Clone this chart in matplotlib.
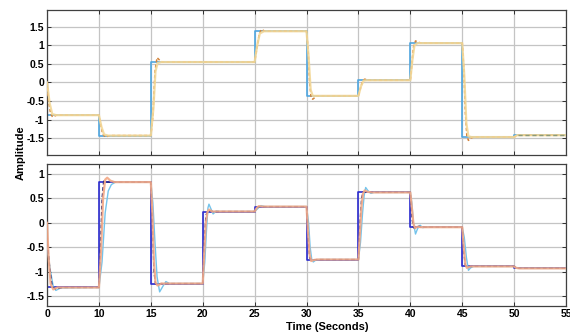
import matplotlib.pyplot as plt
import numpy as np

plt.rcParams['font.family'] = ['Liberation Sans Narrow', 'Liberation Sans', 'DejaVu Sans']

# step instants (the leftmost tick is labelled "0")
step_times = [5, 10, 15, 20, 25, 30, 35, 40, 45, 50]
t_end = 55
x_ticks = [5, 10, 15, 20, 25, 30, 35, 40, 45, 50, 55]
x_tick_labels = ['0', '10', '15', '20', '25', '30', '35', '40', '45', '50', '55']

# upper panel
top_ref = [-0.88, -1.43, 0.55, 0.55, 1.38, -0.36, 0.06, 1.06, -1.47, -1.42]
top_resp = [(5, 0.0), (5.15, -0.5), (5.35, -0.85), (5.55, -0.93), (5.9, -0.88),
            (10, -0.88), (10.15, -1.1), (10.35, -1.38), (10.6, -1.47), (10.9, -1.44), (11.2, -1.43),
            (15, -1.43), (15.2, -0.9), (15.4, 0.3), (15.6, 0.67), (15.85, 0.6), (16.1, 0.55),
            (25, 0.55), (25.2, 0.9), (25.45, 1.3), (25.65, 1.43), (26.0, 1.38),
            (30, 1.38), (30.15, 0.9), (30.3, 0.0), (30.45, -0.42), (30.6, -0.45), (31.0, -0.36),
            (35, -0.36), (35.2, -0.15), (35.4, 0.04), (35.6, 0.09), (36.0, 0.06),
            (40, 0.06), (40.15, 0.5), (40.3, 0.95), (40.5, 1.12), (40.8, 1.08), (41.1, 1.06),
            (45, 1.06), (45.15, 0.4), (45.3, -0.8), (45.45, -1.45), (45.6, -1.56), (45.8, -1.5), (46.1, -1.47),
            (50, -1.47), (50.3, -1.42), (55, -1.42)]
top_model = [(5, 0.0), (5.25, -0.55), (5.5, -0.85), (5.9, -0.88),
             (10, -0.88), (10.25, -1.2), (10.5, -1.4), (10.9, -1.43),
             (15, -1.43), (15.25, -0.7), (15.45, 0.3), (15.65, 0.52), (16.0, 0.55),
             (25, 0.55), (25.25, 1.0), (25.5, 1.32), (25.9, 1.38),
             (30, 1.38), (30.2, 0.7), (30.4, -0.2), (30.6, -0.36),
             (35, -0.36), (35.25, -0.1), (35.5, 0.05), (35.8, 0.06),
             (40, 0.06), (40.2, 0.6), (40.4, 1.0), (40.7, 1.06),
             (45, 1.06), (45.2, 0.2), (45.4, -1.1), (45.6, -1.45), (45.9, -1.47),
             (50, -1.47), (50.3, -1.42), (55, -1.42)]
top_tail = [(50.4, -1.42), (55, -1.42)]

# lower panel
bot_ref = [-1.32, 0.83, -1.24, 0.23, 0.33, -0.75, 0.62, -0.09, -0.89, -0.93]
bot_resp_a = [(5, 0.0), (5.15, -0.7), (5.35, -1.25), (5.6, -1.36), (6.0, -1.32),
              (10, -1.32), (10.2, -0.6), (10.4, 0.5), (10.6, 0.88), (10.8, 0.92), (11.1, 0.86), (11.5, 0.83),
              (15, 0.83), (15.15, 0.2), (15.3, -0.8), (15.45, -1.22), (15.65, -1.28), (16.0, -1.24),
              (20, -1.24), (20.15, -0.6), (20.3, 0.0), (20.45, 0.22), (20.6, 0.27), (20.9, 0.23),
              (25, 0.23), (25.2, 0.3), (25.4, 0.34), (25.8, 0.33),
              (30, 0.33), (30.15, -0.2), (30.3, -0.65), (30.45, -0.78), (30.7, -0.76), (31, -0.75),
              (35, -0.75), (35.15, -0.2), (35.3, 0.35), (35.45, 0.6), (35.6, 0.66), (35.9, 0.63), (36.3, 0.62),
              (40, 0.62), (40.15, 0.3), (40.3, -0.02), (40.45, -0.11), (40.7, -0.08), (41, -0.09),
              (45, -0.09), (45.15, -0.5), (45.3, -0.85), (45.45, -0.92), (45.8, -0.89),
              (50, -0.89), (50.2, -0.92), (50.5, -0.93), (55, -0.93)]
bot_resp_b = [(5, -0.45), (5.3, -0.95), (5.6, -1.3), (5.85, -1.38), (6.3, -1.33),
              (10, -1.32), (10.3, -0.8), (10.6, 0.2), (10.9, 0.65), (11.2, 0.78), (11.6, 0.83),
              (15, 0.83), (15.2, 0.4), (15.4, -0.4), (15.6, -1.1), (15.85, -1.41), (16.15, -1.3), (16.45, -1.2), (16.8, -1.24),
              (20, -1.24), (20.2, -0.8), (20.35, -0.2), (20.5, 0.3), (20.6, 0.38), (20.8, 0.28), (21.0, 0.18), (21.3, 0.24), (21.6, 0.23),
              (25, 0.23), (25.3, 0.29), (25.6, 0.35), (26, 0.33),
              (30, 0.33), (30.2, 0.0), (30.35, -0.5), (30.5, -0.74), (30.65, -0.8), (30.9, -0.76), (31.2, -0.75),
              (35, -0.75), (35.2, -0.4), (35.4, 0.2), (35.55, 0.55), (35.7, 0.72), (35.9, 0.66), (36.2, 0.6), (36.5, 0.62),
              (40, 0.62), (40.15, 0.4), (40.3, 0.0), (40.5, -0.23), (40.7, -0.12), (40.95, -0.05), (41.2, -0.1), (41.5, -0.08), (41.8, -0.09),
              (45, -0.09), (45.2, -0.3), (45.4, -0.7), (45.6, -0.97), (45.8, -0.92), (46.1, -0.89),
              (50, -0.89), (50.3, -0.93), (55, -0.93)]
bot_resp_c = [(5, -0.3), (5.25, -0.9), (5.5, -1.3), (5.8, -1.35), (6.5, -1.32),
              (10, -1.32), (10.15, -0.5), (10.3, 0.5), (10.45, 0.85), (10.8, 0.83),
              (15, 0.83), (15.15, 0.0), (15.3, -1.0), (15.45, -1.25), (16.0, -1.24),
              (20, -1.24), (20.15, -0.4), (20.3, 0.15), (20.5, 0.25), (21.0, 0.23),
              (25, 0.23), (25.2, 0.31), (25.5, 0.33),
              (30, 0.33), (30.15, -0.3), (30.3, -0.72), (30.5, -0.76), (31, -0.75),
              (35, -0.75), (35.15, 0.0), (35.3, 0.5), (35.45, 0.63), (36, 0.62),
              (40, 0.62), (40.15, 0.1), (40.3, -0.1), (40.5, -0.12), (40.8, -0.07), (41.2, -0.09),
              (45, -0.09), (45.15, -0.6), (45.3, -0.88), (45.5, -0.9), (46, -0.89),
              (50, -0.89), (50.3, -0.93), (55, -0.93)]


def xy(points):
    arr = np.array(points)
    return arr[:, 0], arr[:, 1]


def style(ax, yticks, ylim):
    ax.set_xlim(5, t_end)
    ax.set_ylim(*ylim)
    ax.set_yticks(yticks)
    ax.set_yticklabels([f'{v:g}' for v in yticks])
    ax.set_xticks(x_ticks)
    ax.grid(True, color='#c4c4c4', lw=0.9)
    ax.set_axisbelow(True)
    ax.tick_params(direction='in', length=3, width=0.7, top=True, right=True,
                   labelsize=7.5, colors='#303030', pad=2)
    for lab in ax.get_yticklabels() + ax.get_xticklabels():
        lab.set_fontweight('bold')
        lab.set_color('black')
    for s in ax.spines.values():
        s.set_color('#404040')
        s.set_linewidth(0.9)


fig = plt.figure(figsize=(5.7, 3.36), dpi=100)
ax1 = fig.add_axes([0.0825, 0.539, 0.9105, 0.431])
ax2 = fig.add_axes([0.0825, 0.089, 0.9105, 0.423])

# upper panel
ax1.step(step_times + [t_end], top_ref + [top_ref[-1]], where='post', color='#4fa6e0', lw=1.2, zorder=2)
ax1.plot(*xy(top_resp), color='#d4843a', lw=1.1, ls=(0, (2, 1.5)), zorder=3)
ax1.plot(*xy(top_model), color='#f3d898', lw=1.6, alpha=0.9, zorder=4)
ax1.plot(*xy(top_tail), color='#8c9a78', lw=1.0, ls=(0, (3, 2)), zorder=5)
style(ax1, [-1.5, -1, -0.5, 0, 0.5, 1, 1.5], (-1.95, 1.95))
ax1.set_xticklabels([])

# lower panel
ax2.step(step_times + [t_end], bot_ref + [bot_ref[-1]], where='post', color='#2a2ad0', lw=1.2, zorder=2)
ax2.plot(*xy(bot_resp_b), color='#74c4ec', lw=1.0, zorder=3)
ax2.plot(*xy(bot_resp_c), color='#1c1c70', lw=0.9, ls=(0, (3, 2)), zorder=4)
ax2.plot(*xy(bot_resp_a), color='#f3a885', lw=1.6, alpha=0.9, zorder=5)
style(ax2, [-1.5, -1, -0.5, 0, 0.5, 1], (-1.7, 1.2))
ax2.set_xticklabels(x_tick_labels)

fig.text(0.036, 0.545, 'Amplitude', rotation=90, ha='center', va='center',
         fontsize=8, fontweight='bold')
fig.text(0.575, 0.027, 'Time (Seconds)', ha='center', va='center',
         fontsize=8, fontweight='bold')

fig.savefig('out.png', dpi=100)
